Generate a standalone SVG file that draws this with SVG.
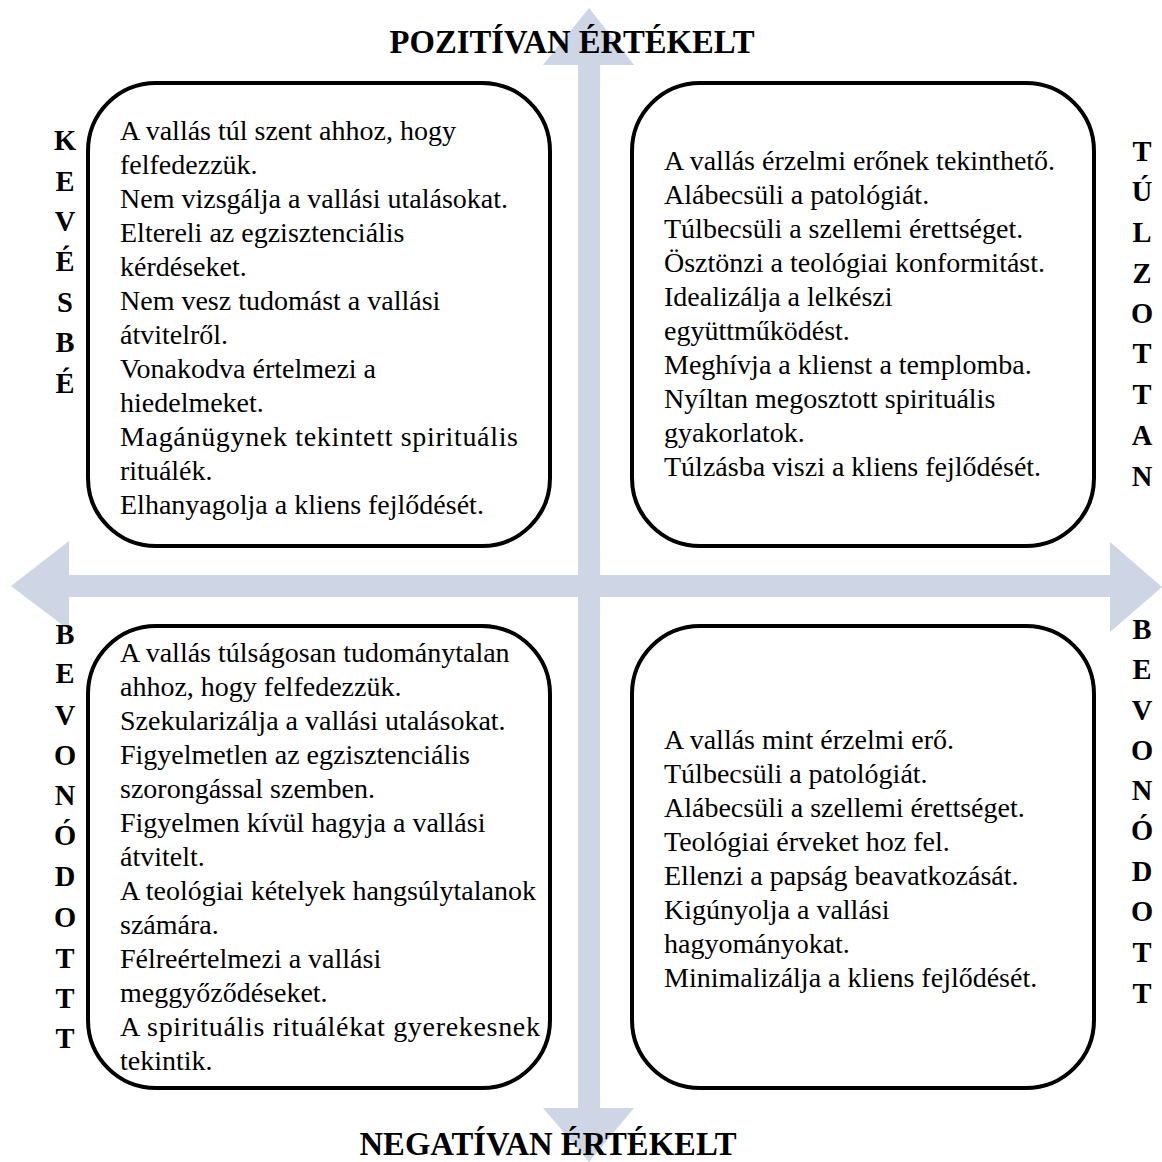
<svg xmlns="http://www.w3.org/2000/svg" width="1162" height="1162" viewBox="0 0 1162 1162">
<style>
.box{fill:#ffffff;stroke:#000000;stroke-width:4}
.arr{fill:#CED6E6;stroke:none}
.t{font-family:"Liberation Serif","Times New Roman",serif;font-size:28px;fill:#000}
.h{font-family:"Liberation Serif","Times New Roman",serif;font-size:32.7px;font-weight:bold;fill:#000;text-anchor:middle}
.v{font-family:"Liberation Serif","Times New Roman",serif;font-size:28.5px;font-weight:bold;fill:#000;text-anchor:middle}
</style>
<rect width="1162" height="1162" fill="#ffffff"/>
<g id="connectors">
<rect class="arr" x="578" y="64" width="22" height="1045"/>
<polygon class="arr" points="589,8 634,65 543,65"/>
<polygon class="arr" points="543,1108 634,1108 589,1162"/>
<rect class="arr" x="68" y="575" width="1043" height="22"/>
<polygon class="arr" points="11,586 69,541 69,630"/>
<polygon class="arr" points="1110,542 1162,587 1110,632"/>
</g>
<g id="title-top"><text class="h" x="572" y="53">POZITÍVAN ÉRTÉKELT</text></g>
<g id="title-bottom"><text class="h" x="548" y="1155">NEGATÍVAN ÉRTÉKELT</text></g>
<g id="label-left-top" class="v">
<text x="65" y="150">K</text><text x="65" y="191">E</text><text x="65" y="231">V</text><text x="65" y="271">É</text><text x="65" y="312">S</text><text x="65" y="352">B</text><text x="65" y="393">É</text>
</g>
<g id="label-right-top" class="v">
<text x="1142" y="161">T</text><text x="1142" y="201">Ú</text><text x="1142" y="242">L</text><text x="1142" y="283">Z</text><text x="1142" y="323">O</text><text x="1142" y="363">T</text><text x="1142" y="404">T</text><text x="1142" y="445">A</text><text x="1142" y="486">N</text>
</g>
<g id="label-left-bottom" class="v">
<text x="65" y="644">B</text><text x="65" y="683">E</text><text x="65" y="725">V</text><text x="65" y="765">O</text><text x="65" y="805">N</text><text x="65" y="845">Ó</text><text x="65" y="886">D</text><text x="65" y="927">O</text><text x="65" y="968">T</text><text x="65" y="1008">T</text><text x="65" y="1048">T</text>
</g>
<g id="label-right-bottom" class="v">
<text x="1142" y="639">B</text><text x="1142" y="679">E</text><text x="1142" y="720">V</text><text x="1142" y="760">O</text><text x="1142" y="800">N</text><text x="1142" y="840">Ó</text><text x="1142" y="881">D</text><text x="1142" y="921">O</text><text x="1142" y="962">T</text><text x="1142" y="1003">T</text>
</g>
<g id="box-top-left">
<rect class="box" x="88" y="83" width="462" height="463" rx="68" ry="68"/>
<g class="t">
<text x="120" y="140">A vallás túl szent ahhoz, hogy</text>
<text x="120" y="174">felfedezzük.</text>
<text x="120" y="208">Nem vizsgálja a vallási utalásokat.</text>
<text x="120" y="242">Eltereli az egzisztenciális</text>
<text x="120" y="276">kérdéseket.</text>
<text x="120" y="310">Nem vesz tudomást a vallási</text>
<text x="120" y="344">átvitelről.</text>
<text x="120" y="378">Vonakodva értelmezi a</text>
<text x="120" y="412">hiedelmeket.</text>
<text x="120" y="446" textLength="398" lengthAdjust="spacing">Magánügynek tekintett spirituális</text>
<text x="120" y="480">rituálék.</text>
<text x="120" y="514">Elhanyagolja a kliens fejlődését.</text>
</g>
</g>
<g id="box-top-right">
<rect class="box" x="632" y="83" width="462" height="463" rx="68" ry="68"/>
<g class="t">
<text x="664" y="170">A vallás érzelmi erőnek tekinthető.</text>
<text x="664" y="204">Alábecsüli a patológiát.</text>
<text x="664" y="238">Túlbecsüli a szellemi érettséget.</text>
<text x="664" y="272">Ösztönzi a teológiai konformitást.</text>
<text x="664" y="306">Idealizálja a lelkészi</text>
<text x="664" y="340">együttműködést.</text>
<text x="664" y="374">Meghívja a klienst a templomba.</text>
<text x="664" y="408">Nyíltan megosztott spirituális</text>
<text x="664" y="442">gyakorlatok.</text>
<text x="664" y="476">Túlzásba viszi a kliens fejlődését.</text>
</g>
</g>
<g id="box-bottom-left">
<rect class="box" x="88" y="626" width="462" height="462" rx="68" ry="68"/>
<g class="t">
<text x="120" y="662">A vallás túlságosan tudománytalan</text>
<text x="120" y="696">ahhoz, hogy felfedezzük.</text>
<text x="120" y="730">Szekularizálja a vallási utalásokat.</text>
<text x="120" y="764">Figyelmetlen az egzisztenciális</text>
<text x="120" y="798">szorongással szemben.</text>
<text x="120" y="832">Figyelmen kívül hagyja a vallási</text>
<text x="120" y="866">átvitelt.</text>
<text x="120" y="900">A teológiai kételyek hangsúlytalanok</text>
<text x="120" y="934">számára.</text>
<text x="120" y="968">Félreértelmezi a vallási</text>
<text x="120" y="1002">meggyőződéseket.</text>
<text x="120" y="1036" textLength="420" lengthAdjust="spacing">A spirituális rituálékat gyerekesnek</text>
<text x="120" y="1070">tekintik.</text>
</g>
</g>
<g id="box-bottom-right">
<rect class="box" x="632" y="626" width="462" height="462" rx="68" ry="68"/>
<g class="t">
<text x="664" y="749">A vallás mint érzelmi erő.</text>
<text x="664" y="783">Túlbecsüli a patológiát.</text>
<text x="664" y="817">Alábecsüli a szellemi érettséget.</text>
<text x="664" y="851">Teológiai érveket hoz fel.</text>
<text x="664" y="885">Ellenzi a papság beavatkozását.</text>
<text x="664" y="919">Kigúnyolja a vallási</text>
<text x="664" y="953">hagyományokat.</text>
<text x="664" y="987">Minimalizálja a kliens fejlődését.</text>
</g>
</g>
</svg>
